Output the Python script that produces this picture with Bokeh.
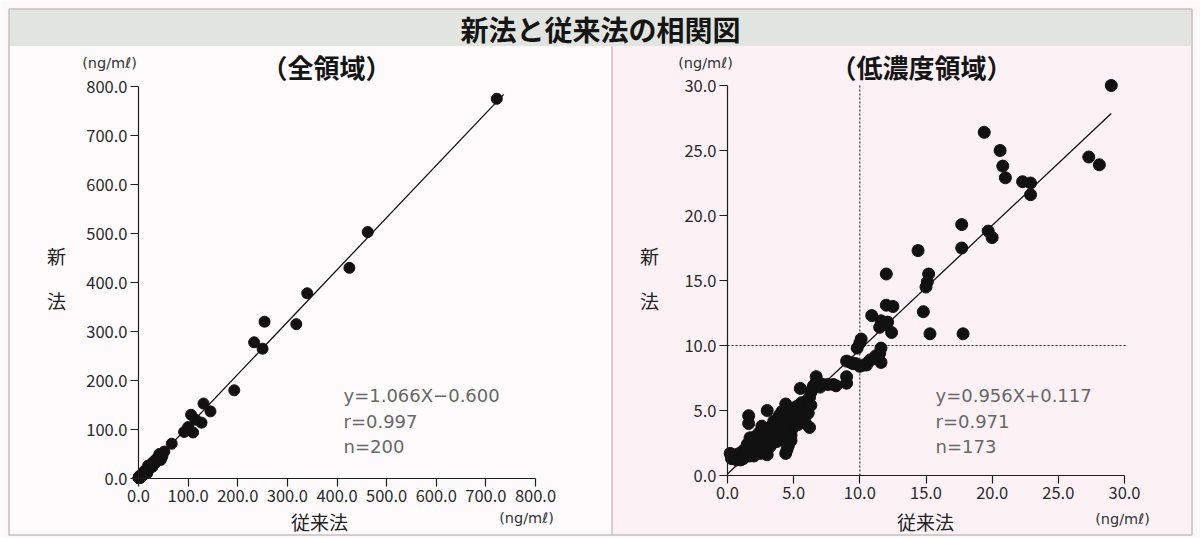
from bokeh.plotting import figure
from bokeh.models import Range1d, FixedTicker, NumeralTickFormatter, LinearAxis
from bokeh.core.properties import value
from bokeh.embed import file_html
from bokeh.resources import INLINE

JP = "Noto Sans CJK JP"
LATIN = "DejaVu Sans"

# ---------------- data ----------------
title_text = "新法と従来法の相関図"
panel_titles = ["（全領域）", "（低濃度領域）"]
x_axis_label = "従来法"
y_axis_chars = ["新", "法"]
unit_text = "(ng/mℓ)"

# samples in the low-concentration region (conventional method, new method), ng/mL
low_conventional = [
    29.0, 27.3, 28.1, 19.4, 20.6, 20.8, 21.0, 22.3, 22.9, 22.9,
    19.7, 20.0, 17.7, 17.7, 14.4, 15.2, 15.1, 15.0, 12.0, 12.0,
    12.5, 10.9, 12.4, 14.8, 15.3, 17.8, 11.6, 12.1, 11.5, 11.8,
    10.1, 10.0, 9.8, 11.6, 11.5, 11.1, 11.6, 10.7, 10.5, 10.0,
    9.5, 9.0, 9.0, 9.0, 7.6, 7.2, 6.7, 6.5, 6.3, 6.1,
    6.0, 5.5, 6.2, 5.9, 5.6, 5.3, 5.1, 4.9, 4.6, 4.4,
    4.8, 4.6, 4.4, 4.5, 4.2, 4.0, 3.9, 3.7, 3.5, 3.3,
    3.0, 3.0, 2.9, 3.0, 2.7, 2.5, 2.3, 2.1, 1.6, 1.6,
    1.7, 1.5, 1.3, 1.1, 0.9, 0.6, 0.3, 0.2, 1.2, 1.9,
    2.2,
    0.4, 0.7, 1.0, 1.4, 1.8, 2.0, 2.4, 2.6, 2.8, 3.1,
    3.3, 3.5, 3.6, 3.8, 4.1, 4.3, 4.5, 4.7, 4.9, 5.0,
    5.2, 5.4, 5.6, 5.8, 6.0, 6.2, 6.4, 6.6, 6.8, 5.7,
    5.2, 4.8, 4.4, 4.1, 3.8, 3.4, 3.1, 2.8, 2.6, 2.4,
    2.0, 1.8, 1.5, 1.2, 0.9, 0.6, 0.3, 2.2, 2.5, 3.2,
    3.4, 3.7, 4.0, 4.2, 4.6, 4.8, 5.0, 5.3, 5.5, 5.9,
    6.1, 1.7, 2.9, 3.9, 4.3, 1.0, 1.4, 2.1, 2.7, 3.6,
    4.7, 5.1, 5.4, 6.3, 7.0, 8.0, 8.2, 9.3, 9.7, 10.3,
    10.8, 11.2,
]
low_new = [
    30.0, 24.5, 23.9, 26.4, 25.0, 23.8, 22.9, 22.6, 22.5, 21.6,
    18.8, 18.3, 19.3, 17.5, 17.3, 15.5, 14.9, 14.5, 15.5, 13.1,
    13.0, 12.3, 11.0, 12.6, 10.9, 10.9, 11.9, 11.8, 11.4, 11.6,
    10.5, 10.2, 9.8, 9.8, 9.4, 9.0, 8.7, 8.8, 8.5, 8.4,
    8.6, 8.8, 7.6, 7.1, 7.0, 7.0, 7.6, 6.9, 6.4, 5.9,
    5.3, 6.7, 3.7, 4.6, 5.6, 5.0, 4.4, 4.8, 5.2, 5.5,
    2.7, 2.3, 1.7, 2.0, 4.2, 3.6, 4.6, 3.1, 4.2, 3.8,
    5.0, 3.4, 2.0, 1.6, 3.1, 2.6, 2.9, 2.3, 4.6, 4.0,
    2.9, 2.4, 2.0, 1.8, 1.4, 1.6, 1.5, 1.7, 1.3, 1.7,
    2.0,
    1.3, 1.2, 1.5, 1.6, 2.0, 1.5, 2.1, 2.4, 2.7, 2.9,
    2.5, 3.0, 3.5, 3.9, 3.3, 3.9, 4.5, 4.0, 3.6, 4.1,
    4.5, 4.8, 4.4, 5.0, 5.7, 6.0, 6.6, 7.0, 7.2, 5.2,
    5.3, 5.0, 4.8, 4.9, 4.3, 3.6, 3.2, 3.5, 3.8, 3.3,
    2.6, 2.4, 2.0, 1.9, 1.7, 1.4, 1.3, 1.8, 1.7, 2.2,
    2.8, 2.6, 3.0, 2.7, 3.3, 3.1, 3.8, 3.9, 4.2, 4.0,
    4.8, 1.5, 2.4, 3.4, 3.6, 1.2, 1.8, 3.0, 2.2, 4.0,
    4.4, 4.7, 5.4, 5.4, 6.8, 7.0, 6.9, 8.7, 8.6, 8.5,
    8.9, 9.2,
]
# remaining samples above the low-concentration region
high_conventional = [722, 462, 425, 340, 318, 254, 250, 233, 193, 145,
                     131, 127, 115, 106, 110, 100, 92, 67, 52, 48,
                     45, 42, 38, 35, 32, 30, 27]
high_new = [775, 503, 430, 378, 315, 320, 265, 278, 180, 137,
            153, 114, 120, 130, 94, 105, 95, 71, 55, 45,
            38, 50, 42, 33, 36, 28, 31]

ticks_all = [0, 100, 200, 300, 400, 500, 600, 700, 800]
ticks_low = [0, 5, 10, 15, 20, 25, 30]

fit_all = dict(slope=1.066, intercept=-0.600, r=0.997, n=200)
fit_low = dict(slope=0.956, intercept=0.117, r=0.971, n=173)
cutoff_low = 10.0

# ---------------- layout (page pixels) ----------------
W, H = 1200, 538
PAGE_BG = "#fdf8fa"
BAND = "#e2e5df"
FRAME_LINE = "#c6bec2"
SEPARATOR = "#e0c9d3"
LEFT_BG = "#fdfbfc"
RIGHT_BG = "#fcf2f6"
INK = "#111111"

# pixel anchors of each panel's axis extremes: (px at min, px at max)
LEFT_X_PX, LEFT_Y_PX = (138, 535), (478, 86)
RIGHT_X_PX, RIGHT_Y_PX = (727, 1124), (475, 85)


def page_range(px_pair, v_pair, lo_px, hi_px):
    """Data range whose ends land on page pixels lo_px / hi_px."""
    k = (v_pair[1] - v_pair[0]) / (px_pair[1] - px_pair[0])
    return Range1d(v_pair[0] + (lo_px - px_pair[0]) * k, v_pair[0] + (hi_px - px_pair[0]) * k)


p = figure(width=W, height=H, x_range=Range1d(0, W), y_range=Range1d(H, 0),
           output_backend="svg", toolbar_location=None,
           x_axis_location=None, y_axis_location=None, min_border=0)
p.grid.visible = False
p.outline_line_color = None
p.background_fill_color = PAGE_BG
p.border_fill_color = PAGE_BG

p.extra_x_ranges = {
    "lx": page_range(LEFT_X_PX, (ticks_all[0], ticks_all[-1]), 0, W),
    "rx": page_range(RIGHT_X_PX, (ticks_low[0], ticks_low[-1]), 0, W),
}
p.extra_y_ranges = {
    "ly": page_range(LEFT_Y_PX, (ticks_all[0], ticks_all[-1]), H, 0),
    "ry": page_range(RIGHT_Y_PX, (ticks_low[0], ticks_low[-1]), H, 0),
}

# ---------------- frame, header band, panel backgrounds ----------------
p.quad(left=[9, 612], right=[611, 1191], top=[45.5, 45.5], bottom=[534.5, 534.5],
       fill_color=[LEFT_BG, RIGHT_BG], line_color=None)
p.quad(left=[9], right=[1191], top=[9], bottom=[45.5], fill_color=BAND, line_color=None)
p.multi_line(xs=[[8.5, 1191.5, 1191.5, 8.5, 8.5]], ys=[[8.5, 8.5, 534.5, 534.5, 8.5]],
             line_color=FRAME_LINE, line_width=1.5)
p.line([611.5, 611.5], [45.5, 534.5], line_color=SEPARATOR, line_width=2)


def txt(x, y, s, size, font=JP, color="#222222", style="normal", align="center"):
    p.text(x=[x], y=[y], text=[s], text_font=value(font), text_font_size=size,
           text_color=color, text_font_style=style, text_align=align, text_baseline="middle")


txt(600, 28, title_text, "28px", color="#151515", style="bold")


# ---------------- axes ----------------
def add_axes(xr, yr, ticks):
    for side in ("below", "left"):
        ax = LinearAxis(x_range_name=xr, y_range_name=yr, fixed_location=0,
                        bounds=(ticks[0], ticks[-1]),
                        ticker=FixedTicker(ticks=ticks),
                        formatter=NumeralTickFormatter(format="0.0"))
        ax.axis_line_color = "#1e1e1e"
        ax.axis_line_width = 1.2
        ax.major_tick_line_color = "#1e1e1e"
        ax.major_tick_line_width = 1.2
        ax.major_tick_in = 0
        ax.major_tick_out = 8
        ax.minor_tick_line_color = None
        ax.major_label_text_font = JP
        ax.major_label_text_font_size = "16.5px"
        ax.major_label_text_color = "#2a2a2a"
        ax.major_label_standoff = 3
        p.add_layout(ax, side)


def fit_text(f):
    sign = "+" if f["intercept"] >= 0 else "−"
    return [f"y={f['slope']:.3f}X{sign}{abs(f['intercept']):.3f}",
            f"r={f['r']:.3f}",
            f"n={f['n']}"]


# ---------------- left panel: whole range ----------------
all_conv = low_conventional + high_conventional
all_new = low_new + high_new
x_end = 736
p.line([0, x_end], [fit_all["intercept"], fit_all["slope"] * x_end + fit_all["intercept"]],
       x_range_name="lx", y_range_name="ly", line_color=INK, line_width=1.3)
p.scatter(all_conv, all_new, x_range_name="lx", y_range_name="ly", size=11, color=INK)
add_axes("lx", "ly", ticks_all)

for i, t in enumerate(fit_text(fit_all)):
    txt(343, 395 + 25.5 * i, t, "18px", font=LATIN, color="#686868", align="left")
txt(326, 66, panel_titles[0], "26px", color="#151515", style="bold")
txt(109, 62, unit_text, "14.5px", font=LATIN, color="#333333")
txt(526, 517, unit_text, "14.5px", font=LATIN, color="#333333")
txt(319, 521, x_axis_label, "19px")
txt(56, 255, y_axis_chars[0], "19px")
txt(56, 300, y_axis_chars[1], "19px")

# ---------------- right panel: low concentration ----------------
p.line([cutoff_low, cutoff_low], [0, 30.1], x_range_name="rx", y_range_name="ry",
       line_color="#222222", line_width=1.1, line_dash="2 2")
p.line([0, 30.2], [cutoff_low, cutoff_low], x_range_name="rx", y_range_name="ry",
       line_color="#222222", line_width=1.1, line_dash="2 2")
x_end_low = 29.0
p.line([0, x_end_low], [fit_low["intercept"], fit_low["slope"] * x_end_low + fit_low["intercept"]],
       x_range_name="rx", y_range_name="ry", line_color=INK, line_width=1.3)
p.scatter(low_conventional, low_new, x_range_name="rx", y_range_name="ry", size=12, color=INK)
add_axes("rx", "ry", ticks_low)

for i, t in enumerate(fit_text(fit_low)):
    txt(935, 395 + 25.5 * i, t, "18px", font=LATIN, color="#686868", align="left")
txt(921, 66, panel_titles[1], "26px", color="#151515", style="bold")
txt(705, 62, unit_text, "14.5px", font=LATIN, color="#333333")
txt(1122, 518, unit_text, "14.5px", font=LATIN, color="#333333")
txt(925, 521, x_axis_label, "19px")
txt(649, 255, y_axis_chars[0], "19px")
txt(649, 300, y_axis_chars[1], "19px")

open("out.html", "w").write(file_html(p, INLINE))
